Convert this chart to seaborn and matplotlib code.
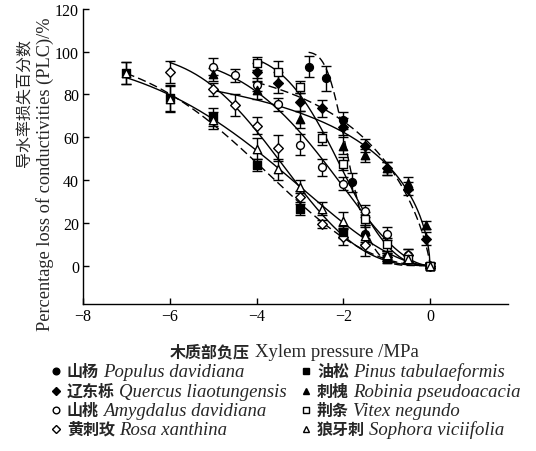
import numpy as np
import pandas as pd
import matplotlib
matplotlib.use("Agg")
import matplotlib.pyplot as plt
import seaborn as sns
from matplotlib.lines import Line2D

# ---- data: water potential (MPa), PLC (%), error (%) ----
populus_x = [-2.8, -2.4, -2.0, -1.8, -1.5, -1.0, 0.0]
populus_y = [93, 87.5, 68, 39, 15, 4, 0]
populus_err = [5, 6, 4, 4.5, 4, 2, 1]

quercus_x = [-4.0, -3.5, -3.0, -2.5, -2.0, -1.5, -1.0, -0.5, -0.1, 0.0]
quercus_y = [90.5, 85.5, 76.5, 73.5, 65, 56, 45.5, 36, 12.5, 0]
quercus_err = [4, 5, 4, 4, 4, 3, 3, 3, 3, 1]

amygdalus_x = [-5.0, -4.5, -4.0, -3.5, -3.0, -2.5, -2.0, -1.5, -1.0, -0.5, 0.0]
amygdalus_y = [93, 89, 84.5, 75.5, 56.5, 46, 38.3, 25.5, 15, 4.8, 0]
amygdalus_err = [4, 3, 3, 3, 5, 4, 3, 3, 3, 3, 1]

rosa_x = [-6.0, -5.0, -4.5, -4.0, -3.5, -3.0, -2.5, -2.0, -1.5, -1.0, -0.5, 0.0]
rosa_y = [90.5, 82.5, 75, 65.5, 55, 32, 19.5, 13.5, 9.5, 4, 4.8, 0]
rosa_err = [5, 3, 5, 4, 6, 3, 2, 4, 5, 2, 3, 1]

pinus_x = [-7.0, -6.0, -5.0, -4.0, -3.0, -2.0, -1.0, 0.0]
pinus_y = [90, 78.5, 69.5, 47, 26.6, 15.7, 3, 0]
pinus_err = [5, 6, 4, 3, 3, 3, 2, 1]

robinia_x = [-5.0, -4.0, -3.0, -2.0, -1.5, -1.0, -0.5, -0.1, 0.0]
robinia_y = [89.5, 82, 68.5, 56, 51.5, 45.5, 38.5, 19, 0]
robinia_err = [3, 4, 4, 4, 3, 3, 3, 2, 1]

vitex_x = [-4.0, -3.5, -3.0, -2.5, -2.0, -1.5, -1.0, -0.5, 0.0]
vitex_y = [94.5, 90.5, 83.5, 59.5, 47.7, 22, 10, 3, 0]
vitex_err = [3, 5, 3, 3, 3, 3, 3, 2, 1]

sophora_x = [-7.0, -6.0, -5.0, -4.0, -3.5, -3.0, -2.5, -2.0, -1.5, -1.0, -0.5, 0.0]
sophora_y = [90, 78, 68, 54.7, 45, 36.8, 26.6, 21, 14, 5, 3, 0]
sophora_err = [5, 6, 4, 5, 5, 3, 3, 4, 4, 2, 2, 1]

names_cn = ["山杨", "辽东栎", "山桃", "黄刺玫", "油松", "刺槐", "荆条", "狼牙刺"]
names_latin = ["Populus davidiana", "Quercus liaotungensis", "Amygdalus davidiana",
               "Rosa xanthina", "Pinus tabulaeformis", "Robinia pseudoacacia",
               "Vitex negundo", "Sophora viciifolia"]

W, H = 536, 452
CN = ['Noto Sans CJK SC', 'DejaVu Sans']
SERIF = ['Liberation Serif', 'Noto Sans CJK SC']


def weibull_fit(x, y):
    """Least-squares Weibull vulnerability curve (grid search), PLC = 100(1-exp(-(P/b)^c))."""
    p = -np.asarray(x, float)
    plc = np.asarray(y, float)
    b = np.linspace(0.2, 8, 400)[:, None, None]
    c = np.linspace(0.3, 8, 300)[None, :, None]
    pred = 100 * (1 - np.exp(-(p[None, None, :] / b) ** c))
    sse = ((pred - plc) ** 2).sum(axis=2)
    i, j = np.unravel_index(np.argmin(sse), sse.shape)
    return b[i, 0, 0], c[0, j, 0]


def text_row(fig, x_px, y_px, pieces, gap=4, center=False):
    """Place several text pieces side by side on one baseline (pixel coords from top-left)."""
    r = fig.canvas.get_renderer()
    texts = [fig.text(0, 0, s, va='baseline', ha='left', **kw) for s, kw in pieces]
    widths = [t.get_window_extent(r).width for t in texts]
    if center:
        x_px -= (sum(widths) + gap * (len(widths) - 1)) / 2
    for t, w in zip(texts, widths):
        t.set_position((x_px / W, 1 - y_px / H))
        x_px += w + gap


sns.set_theme(style="ticks")
plt.rcParams['font.family'] = SERIF

fig = plt.figure(figsize=(W / 100, H / 100), dpi=100)
ax = fig.add_axes([0.155, 0.325, 0.793, 0.653])

series = [
    (populus_x, populus_y, populus_err, 'o', 'black', (0, (6, 3))),
    (quercus_x, quercus_y, quercus_err, 'D', 'black', (0, (6, 3))),
    (amygdalus_x, amygdalus_y, amygdalus_err, 'o', 'white', '-'),
    (rosa_x, rosa_y, rosa_err, 'D', 'white', '-'),
    (pinus_x, pinus_y, pinus_err, 's', 'black', (0, (6, 3))),
    (robinia_x, robinia_y, robinia_err, '^', 'black', '-'),
    (vitex_x, vitex_y, vitex_err, 's', 'white', '-'),
    (sophora_x, sophora_y, sophora_err, '^', 'white', '-'),
]
sizes = {'o': 32, 'D': 24, 's': 30, '^': 36}

for x, y, err, mk, fc, ls in series:
    b, c = weibull_fit(x, y)
    xs = np.linspace(min(x), 0, 300)
    curve = pd.DataFrame({"x": xs, "y": 100 * (1 - np.exp(-(-xs / b) ** c))})
    sns.lineplot(data=curve, x="x", y="y", ax=ax, color="black", lw=1.0,
                 linestyle=ls, zorder=2)
    ax.errorbar(x, y, yerr=err, fmt='none', ecolor='black', elinewidth=1.0,
                capsize=3.5, capthick=1.0, zorder=3)
    pts = pd.DataFrame({"x": x, "y": y})
    sns.scatterplot(data=pts, x="x", y="y", ax=ax, marker=mk, s=sizes[mk],
                    facecolor=fc, edgecolor='black', linewidth=1.0, zorder=4)

ax.set_xlim(-8, 1.8)
ax.set_ylim(-18, 120)
ax.set_xticks([-8, -6, -4, -2, 0])
ax.set_yticks([0, 20, 40, 60, 80, 100, 120])
ax.tick_params(direction='in', length=4, width=1, labelsize=11.5, colors='black', pad=3)
for s in ['top', 'right']:
    ax.spines[s].set_visible(False)
for s in ['left', 'bottom']:
    ax.spines[s].set_linewidth(1.0)
    ax.spines[s].set_color('black')
ax.set_xlabel("")
ax.set_ylabel("")

# axis titles
text_row(fig, 294, 357, [("木质部负压", dict(family=CN, fontsize=11.5, fontweight='bold')),
                         ("Xylem pressure /MPa", dict(family=SERIF, fontsize=13.5))],
         gap=5, center=True)
fig.text(25 / W, 1 - 103 / H, "导水率损失百分数", family=CN, rotation=90,
         ha='center', va='center', fontsize=11.5)
fig.text(45 / W, 1 - 174 / H, "Percentage loss of conductivities (PLC)/%", rotation=90,
         ha='center', va='center', fontsize=13.2)

# legend, two columns of four
rows_y = [377, 397, 416, 435]
for k, (mk, fc) in enumerate([(s[3], s[4]) for s in series]):
    col, row = divmod(k, 4)
    mx = 56 if col == 0 else 306
    tx = 67 if col == 0 else 317
    fig.add_artist(Line2D([mx / W], [1 - (rows_y[row] - 5) / H], ls='none', marker=mk,
                          markersize=4.8 if mk != 'D' else 4.2, markerfacecolor=fc,
                          markeredgecolor='black', markeredgewidth=1.0,
                          transform=fig.transFigure))
    text_row(fig, tx, rows_y[row],
             [(names_cn[k], dict(family=CN, fontsize=11.5, fontweight='bold')),
              (names_latin[k], dict(family=SERIF, style='italic', fontsize=13.5))],
             gap=4)

fig.savefig("out.png", dpi=100)
